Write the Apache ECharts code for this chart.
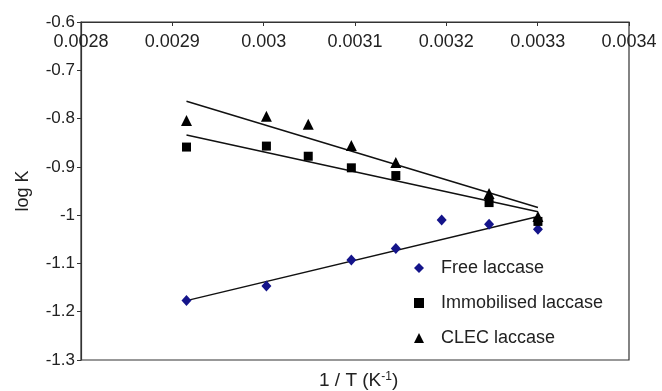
<!DOCTYPE html>
<html>
<head>
<meta charset="utf-8">
<script src="https://cdn.jsdelivr.net/npm/echarts@6/dist/echarts.min.js"></script>
<style>
	html, body { margin: 0; padding: 0; background: #fff; }
	#mychart { width: 662px; height: 391px; }
</style>
</head>
<body>
<div id="mychart"></div>
<script>
// 1/T values (K^-1) and log K
var freeX = [0.0029155, 0.0030030, 0.0030960, 0.0031447, 0.0031949, 0.0032468, 0.0033003];
var freeLogK = [-1.177, -1.147, -1.093, -1.069, -1.010, -1.019, -1.029];
var enzX = [0.0029155, 0.0030030, 0.0030488, 0.0030960, 0.0031447, 0.0032468, 0.0033003];
var immobLogK = [-0.859, -0.857, -0.878, -0.902, -0.918, -0.974, -1.013];
var clecLogK = [-0.804, -0.795, -0.812, -0.856, -0.891, -0.955, -1.003];

// linear trend lines, start and end
var trendX = [0.0029155, 0.0033003];
var freeTrend = [-1.177, -1.003];
var immobTrend = [-0.834, -0.993];
var clecTrend = [-0.764, -0.984];

var xTicks = [0.0028, 0.0034]; // axis range
var yTicks = [-1.3, -0.6];

function pairs(xs, ys) {
	return xs.map(function(x, i) { return [x, ys[i]]; });
}

var font = 'Liberation Sans';
var mychart = echarts.init(document.getElementById('mychart'));

var trendStyle = { color: '#111', width: 1.5 };

var myoption = {
	backgroundColor: '#fff',
	animation: false,
	textStyle: { fontFamily: font },
	grid: {
		left: 81, right: 33, top: 22, bottom: 31,
		show: true,
		borderColor: '#333',
		borderWidth: 1.2
	},
	legend: {
		orient: 'vertical',
		left: 409,
		top: 253,
		itemWidth: 10,
		itemHeight: 10,
		itemGap: 15,
		data: [
			{ name: 'Free laccase', icon: 'diamond' },
			{ name: 'Immobilised laccase', icon: 'rect' },
			{ name: 'CLEC laccase', icon: 'triangle' }
		],
		textStyle: {
			fontFamily: font,
			fontSize: 18,
			color: '#222',
			lineHeight: 20,
			padding: [0, 0, 0, 12]
		}
	},
	graphic: [{
		type: 'text',
		left: 319,
		top: 371,
		style: {
			text: '1 / T (K{sup|-1})',
			font: '19px "Liberation Sans"',
			fill: '#222',
			rich: {
				sup: { fontSize: 12, verticalAlign: 'top', padding: [0, 0, 8, 0], fontFamily: font }
			}
		}
	}],
	xAxis: {
		type: 'value',
		position: 'top',
		min: xTicks[0],
		max: xTicks[1],
		interval: 0.0001,
		splitLine: { show: false },
		axisLine: { lineStyle: { color: '#333', width: 1.2 } },
		axisTick: { inside: true, length: 4, lineStyle: { color: '#333' } },
		axisLabel: {
			inside: true,
			margin: 11,
			fontSize: 18,
			color: '#222',
			showMinLabel: true,
			showMaxLabel: true,
			formatter: function(v) { return String(+v.toFixed(4)); }
		}
	},
	yAxis: {
		type: 'value',
		min: yTicks[0],
		max: yTicks[1],
		interval: 0.1,
		name: 'log K',
		nameLocation: 'middle',
		nameGap: 49,
		nameRotate: 90,
		nameTextStyle: { fontSize: 18, color: '#222', fontFamily: font },
		splitLine: { show: false },
		axisLine: { show: true, onZero: false, lineStyle: { color: '#333', width: 1.2 } },
		axisTick: { show: true, inside: false, length: 4, lineStyle: { color: '#333' } },
		axisLabel: {
			margin: 6,
			fontSize: 17,
			color: '#222',
			formatter: function(v) { return String(+v.toFixed(1)); }
		}
	},
	series: [
		{
			name: 'trend free', type: 'line', data: pairs(trendX, freeTrend),
			showSymbol: false, lineStyle: trendStyle, itemStyle: { color: '#111' }, z: 1
		},
		{
			name: 'trend immob', type: 'line', data: pairs(trendX, immobTrend),
			showSymbol: false, lineStyle: trendStyle, itemStyle: { color: '#111' }, z: 1
		},
		{
			name: 'trend clec', type: 'line', data: pairs(trendX, clecTrend),
			showSymbol: false, lineStyle: trendStyle, itemStyle: { color: '#111' }, z: 1
		},
		{
			name: 'Free laccase', type: 'scatter', symbol: 'diamond', symbolSize: [10, 11],
			data: pairs(freeX, freeLogK), itemStyle: { color: '#14148a', opacity: 1 }, z: 3
		},
		{
			name: 'Immobilised laccase', type: 'scatter', symbol: 'rect', symbolSize: 9,
			data: pairs(enzX, immobLogK), itemStyle: { color: '#000', opacity: 1 }, z: 3
		},
		{
			name: 'CLEC laccase', type: 'scatter', symbol: 'triangle', symbolSize: 11,
			data: pairs(enzX, clecLogK), itemStyle: { color: '#000', opacity: 1 }, z: 3
		}
	]
};
mychart.setOption(myoption);
</script>
</body>
</html>
